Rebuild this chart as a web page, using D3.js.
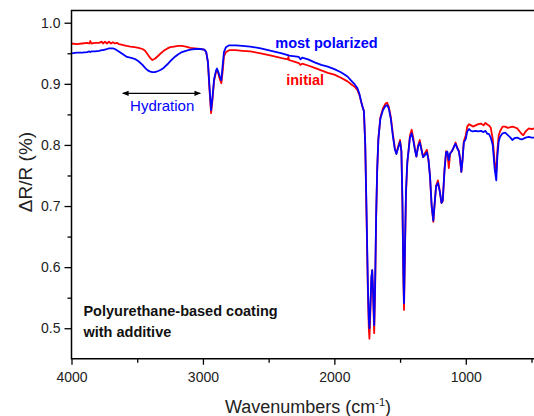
<!DOCTYPE html>
<html>
<head>
<meta charset="utf-8">
<script src="https://cdn.jsdelivr.net/npm/d3@7/dist/d3.min.js"></script>
<style>
  html, body { margin: 0; padding: 0; background: #fff; }
  svg { display: block; font-family: "Liberation Sans", Arial, sans-serif; }
</style>
</head>
<body>
<div id="main"></div>
<script>
// Spectrum samples (wavenumber in cm-1, dR/R)
const wavenumbers = [
  4000, 3960, 3920, 3880, 3865, 3857, 3850, 3820, 3790, 3770, 3760, 3745, 3730, 3715, 3700, 3685,
  3670, 3655, 3640, 3620, 3600, 3578, 3553, 3520, 3490, 3460, 3440, 3420, 3400, 3385, 3365, 3340,
  3320, 3299, 3270, 3248, 3220, 3190, 3160, 3130, 3096, 3060, 3020, 2990, 2975, 2962, 2950, 2938,
  2928, 2915, 2900, 2893, 2884, 2872, 2860, 2850, 2840, 2825, 2800, 2750, 2700, 2640, 2560, 2480,
  2400, 2355, 2350, 2345, 2300, 2270, 2258, 2245, 2200, 2150, 2100, 2050, 2000, 1950, 1900, 1870,
  1845, 1825, 1810, 1795, 1785, 1775, 1765, 1755, 1745, 1738, 1733, 1727, 1718, 1712, 1706, 1697,
  1690, 1682, 1674, 1665, 1650, 1630, 1610, 1598, 1585, 1570, 1555, 1540, 1528, 1515, 1500, 1490,
  1482, 1475, 1470, 1463, 1455, 1445, 1437, 1425, 1412, 1400, 1388, 1376, 1362, 1350, 1338, 1325,
  1312, 1296, 1284, 1272, 1260, 1247, 1238, 1226, 1212, 1198, 1185, 1175, 1162, 1150, 1140, 1129,
  1120, 1105, 1090, 1078, 1066, 1052, 1043, 1034, 1025, 1015, 1000, 989, 975, 960, 945, 925,
  905, 885, 865, 850, 835, 824, 810, 795, 780, 768, 760, 750, 740, 720, 700, 680,
  660, 646, 630, 608, 590, 575, 562, 545, 520, 500, 480
];

const initial = [
  0.966, 0.965, 0.966, 0.967, 0.966, 0.970, 0.966, 0.967, 0.967, 0.969, 0.966, 0.969, 0.966, 0.969, 0.966, 0.968,
  0.966, 0.967, 0.965, 0.964, 0.963, 0.962, 0.961, 0.960, 0.959, 0.957, 0.954, 0.948, 0.942, 0.939, 0.941, 0.946,
  0.950, 0.954, 0.958, 0.960, 0.961, 0.962, 0.962, 0.961, 0.959, 0.958, 0.957, 0.956, 0.952, 0.935, 0.890, 0.852,
  0.872, 0.905, 0.920, 0.922, 0.918, 0.908, 0.901, 0.920, 0.945, 0.952, 0.955, 0.955, 0.954, 0.953, 0.950, 0.946,
  0.942, 0.940, 0.944, 0.939, 0.936, 0.934, 0.931, 0.933, 0.930, 0.926, 0.922, 0.918, 0.915, 0.910, 0.904, 0.899,
  0.895, 0.890, 0.882, 0.870, 0.862, 0.855, 0.800, 0.680, 0.560, 0.500, 0.483, 0.520, 0.580, 0.595, 0.560, 0.492,
  0.560, 0.680, 0.760, 0.810, 0.845, 0.860, 0.868, 0.869, 0.862, 0.845, 0.818, 0.795, 0.786, 0.797, 0.808, 0.790,
  0.700, 0.580, 0.530, 0.620, 0.720, 0.770, 0.788, 0.815, 0.825, 0.812, 0.795, 0.781, 0.800, 0.808, 0.794, 0.780,
  0.786, 0.792, 0.776, 0.748, 0.700, 0.674, 0.700, 0.733, 0.742, 0.725, 0.705, 0.708, 0.760, 0.790, 0.786, 0.762,
  0.785, 0.790, 0.797, 0.804, 0.796, 0.790, 0.776, 0.756, 0.775, 0.806, 0.816, 0.830, 0.834, 0.832, 0.830, 0.832,
  0.834, 0.835, 0.832, 0.836, 0.833, 0.832, 0.828, 0.810, 0.770, 0.756, 0.790, 0.815, 0.822, 0.830, 0.830, 0.828,
  0.829, 0.830, 0.829, 0.827, 0.822, 0.818, 0.816, 0.822, 0.827, 0.826, 0.827
];

const polarized = [
  0.950, 0.951, 0.951, 0.952, 0.953, 0.952, 0.953, 0.953, 0.954, 0.955, 0.955, 0.956, 0.957, 0.958, 0.958, 0.958,
  0.957, 0.955, 0.953, 0.950, 0.947, 0.944, 0.943, 0.941, 0.937, 0.931, 0.926, 0.922, 0.920, 0.919, 0.919, 0.921,
  0.923, 0.926, 0.932, 0.937, 0.943, 0.948, 0.952, 0.954, 0.956, 0.957, 0.957, 0.956, 0.952, 0.936, 0.895, 0.857,
  0.876, 0.908, 0.922, 0.925, 0.920, 0.912, 0.906, 0.930, 0.952, 0.960, 0.963, 0.963, 0.962, 0.961, 0.958, 0.954,
  0.950, 0.947, 0.947, 0.946, 0.945, 0.944, 0.940, 0.943, 0.940, 0.935, 0.931, 0.928, 0.924, 0.919, 0.912, 0.905,
  0.899, 0.893, 0.884, 0.870, 0.862, 0.855, 0.800, 0.690, 0.570, 0.515, 0.500, 0.530, 0.585, 0.595, 0.565, 0.505,
  0.570, 0.685, 0.760, 0.810, 0.843, 0.857, 0.864, 0.865, 0.859, 0.842, 0.815, 0.793, 0.785, 0.795, 0.805, 0.790,
  0.710, 0.590, 0.541, 0.630, 0.725, 0.772, 0.787, 0.812, 0.819, 0.808, 0.793, 0.781, 0.798, 0.804, 0.793, 0.780,
  0.783, 0.788, 0.776, 0.748, 0.702, 0.676, 0.702, 0.732, 0.738, 0.724, 0.705, 0.710, 0.758, 0.788, 0.789, 0.775,
  0.786, 0.790, 0.797, 0.802, 0.795, 0.789, 0.776, 0.756, 0.775, 0.804, 0.810, 0.822, 0.826, 0.823, 0.822, 0.823,
  0.822, 0.823, 0.821, 0.823, 0.818, 0.818, 0.812, 0.800, 0.760, 0.742, 0.780, 0.805, 0.813, 0.819, 0.820, 0.816,
  0.812, 0.808, 0.811, 0.812, 0.810, 0.809, 0.810, 0.812, 0.813, 0.812, 0.812
];

const xTicks = [4000, 3000, 2000, 1000];
const xMinorTicks = [3500, 2500, 1500, 500];
const yTicks = [0.5, 0.6, 0.7, 0.8, 0.9, 1.0];
const yMinorTicks = [0.55, 0.65, 0.75, 0.85, 0.95];

const series = [
  { name: "initial", values: initial, color: "#ff0000" },
  { name: "most polarized", values: polarized, color: "#0000ff" },
];

const WIDTH = 534;
const HEIGHT = 416;
const PLOT_LEFT = 71.5;
const PLOT_RIGHT = 531.5;
const PLOT_TOP = 10.5;
const PLOT_BOTTOM = 358.8;

const x = d3.scaleLinear().domain([4000, 500]).range([PLOT_LEFT, PLOT_RIGHT]);
const y = d3.scaleLinear().domain([0.45, 1.02]).range([PLOT_BOTTOM, PLOT_TOP]);

const svg = d3
  .select("#main")
  .append("svg")
  .attr("width", WIDTH)
  .attr("height", HEIGHT);

svg.append("defs")
  .append("clipPath")
  .attr("id", "plot-clip")
  .append("rect")
  .attr("x", PLOT_LEFT)
  .attr("y", PLOT_TOP)
  .attr("width", WIDTH - PLOT_LEFT)
  .attr("height", PLOT_BOTTOM - PLOT_TOP);

svg.select("defs")
  .append("marker")
  .attr("id", "arrow-head")
  .attr("viewBox", "0 -5 10 10")
  .attr("refX", 9)
  .attr("markerWidth", 7)
  .attr("markerHeight", 5)
  .attr("orient", "auto-start-reverse")
  .append("path")
  .attr("d", "M0,-4L10,0L0,4Z")
  .attr("fill", "#000");

// spectra, red first, blue on top
const line = d3
  .line()
  .x((d) => x(d[0]))
  .y((d) => y(d[1]));

svg.append("g")
  .attr("clip-path", "url(#plot-clip)")
  .selectAll("path")
  .data(series)
  .join("path")
  .attr("d", (s) => line(wavenumbers.map((w, i) => [w, s.values[i]])))
  .attr("fill", "none")
  .attr("stroke", (s) => s.color)
  .attr("stroke-width", 1.8)
  .attr("stroke-linejoin", "round");

// axes
const xAxis = svg.append("g")
  .attr("transform", `translate(0,${PLOT_BOTTOM})`)
  .call(d3.axisBottom(x).tickValues(xTicks).tickSize(6).tickFormat(d3.format("d")));
xAxis.select(".domain").remove();

svg.append("g")
  .attr("transform", `translate(0,${PLOT_BOTTOM})`)
  .call(d3.axisBottom(x).tickValues(xMinorTicks).tickSize(4).tickFormat(""))
  .select(".domain").remove();

const yAxis = svg.append("g")
  .attr("transform", `translate(${PLOT_LEFT},0)`)
  .call(d3.axisLeft(y).tickValues(yTicks).tickSize(7).tickPadding(4).tickFormat(d3.format(".1f")));
yAxis.select(".domain").remove();

svg.append("g")
  .attr("transform", `translate(${PLOT_LEFT},0)`)
  .call(d3.axisLeft(y).tickValues(yMinorTicks).tickSize(4).tickFormat(""))
  .select(".domain").remove();

svg.selectAll(".tick line").attr("stroke", "#000").attr("stroke-width", 1.3);
svg.selectAll(".tick text")
  .attr("fill", "#222")
  .attr("font-size", 14)
  .attr("font-family", "Liberation Sans, Arial, sans-serif");
xAxis.selectAll(".tick text").attr("dy", "1.05em");

// frame: left, bottom and top lines (no right line)
svg.append("path")
  .attr("d", `M${WIDTH},${PLOT_TOP}H${PLOT_LEFT}V${PLOT_BOTTOM}H${WIDTH}`)
  .attr("fill", "none")
  .attr("stroke", "#000")
  .attr("stroke-width", 1.5);

// axis titles
svg.append("text")
  .attr("transform", "translate(32,172) rotate(-90)")
  .attr("text-anchor", "middle")
  .attr("font-size", 19)
  .attr("fill", "#222")
  .text("\u0394R/R (%)");

const xTitle = svg.append("text")
  .attr("x", 308)
  .attr("y", 413)
  .attr("text-anchor", "middle")
  .attr("font-size", 18)
  .attr("fill", "#222");
xTitle.append("tspan").text("Wavenumbers (cm");
xTitle.append("tspan").attr("font-size", 11).attr("dy", -7).text("-1");
xTitle.append("tspan").attr("dy", 7).text(")");

// annotations
svg.append("line")
  .attr("x1", x(3610))
  .attr("x2", x(3020))
  .attr("y1", y(0.8845))
  .attr("y2", y(0.8845))
  .attr("stroke", "#000")
  .attr("stroke-width", 1.3)
  .attr("marker-start", "url(#arrow-head)")
  .attr("marker-end", "url(#arrow-head)");

svg.append("text")
  .attr("x", x(3310))
  .attr("y", y(0.855))
  .attr("text-anchor", "middle")
  .attr("font-size", 15)
  .attr("fill", "#0000ff")
  .text("Hydration");

svg.append("text")
  .attr("x", x(2060))
  .attr("y", y(0.9586))
  .attr("text-anchor", "middle")
  .attr("font-size", 14.5)
  .attr("font-weight", "bold")
  .attr("fill", "#0000ff")
  .text("most polarized");

svg.append("text")
  .attr("x", x(2222))
  .attr("y", y(0.898))
  .attr("text-anchor", "middle")
  .attr("font-size", 14.5)
  .attr("font-weight", "bold")
  .attr("fill", "#ff0000")
  .text("initial");

const note = svg.append("text")
  .attr("font-size", 14.5)
  .attr("font-weight", "bold")
  .attr("fill", "#111");
note.append("tspan").attr("x", x(3909)).attr("y", y(0.52)).text("Polyurethane-based coating");
note.append("tspan").attr("x", x(3909)).attr("y", y(0.4855)).text("with additive");
</script>
</body>
</html>
